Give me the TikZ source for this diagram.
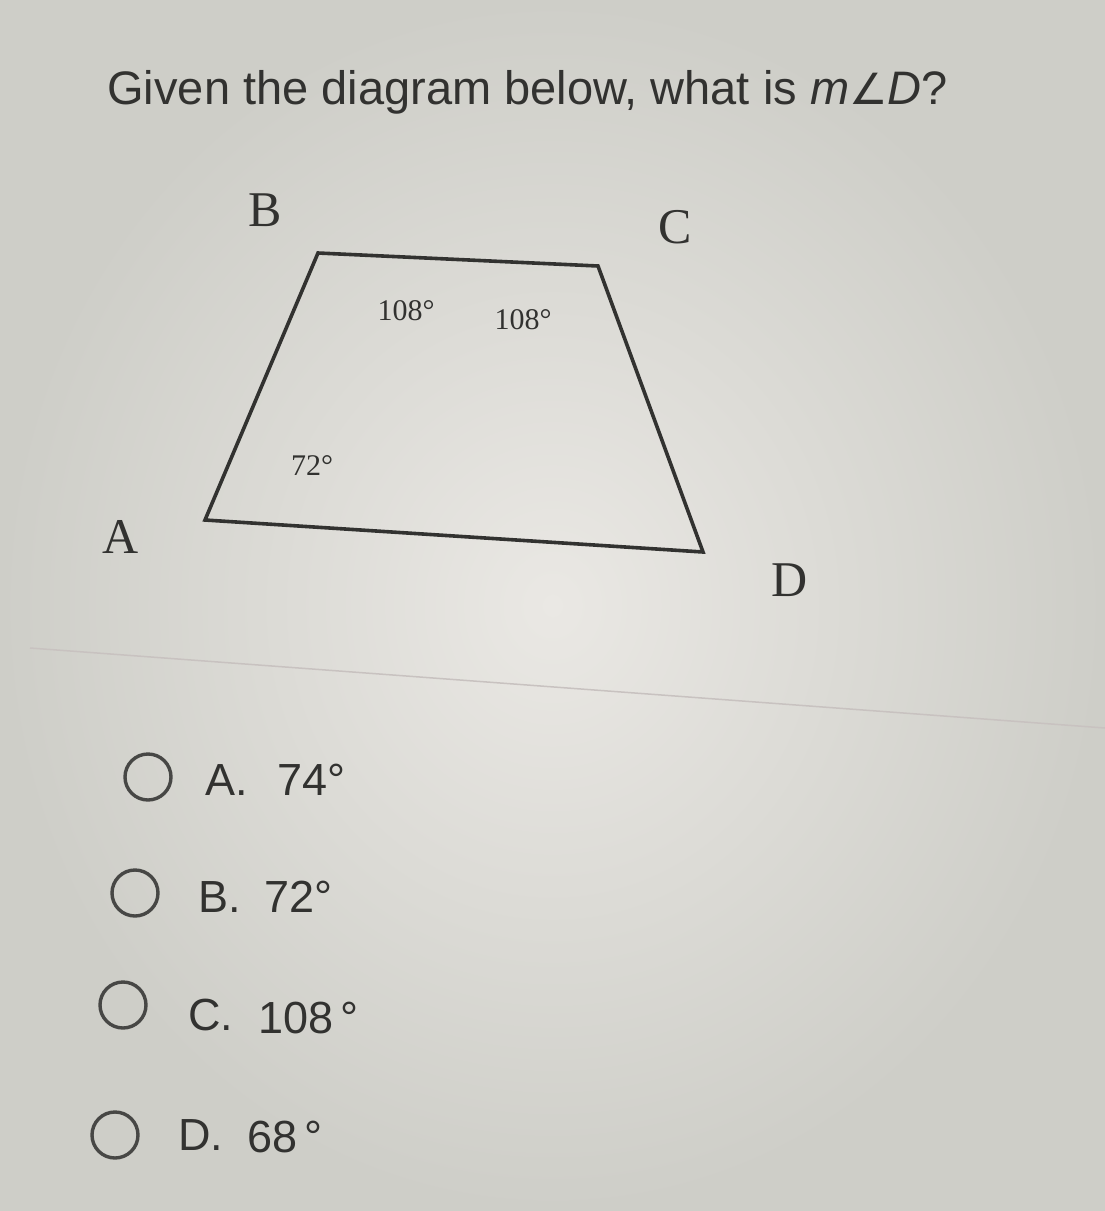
\documentclass[tikz,border=0pt]{standalone}
\usepackage{fontspec}
\setmainfont{Liberation Serif}
\newfontfamily\uifont{Liberation Sans}
\newfontfamily\symfont{DejaVu Sans}
\usetikzlibrary{positioning}
\definecolor{ink}{RGB}{50,50,48}
\definecolor{paper}{RGB}{234,232,228}
\definecolor{shade}{RGB}{206,206,200}
\definecolor{rule}{RGB}{200,194,192}

\begin{document}
\begin{tikzpicture}[x=1pt,y=-1pt,thick,
    vertex label/.style={font=\fontsize{50}{52}\selectfont,text=ink},
    angle label/.style={font=\fontsize{30}{32}\selectfont,text=ink},
    question/.style={font=\uifont\fontsize{47}{49}\selectfont,text=ink,anchor=base west,inner sep=0pt},
    choice/.style={font=\uifont\fontsize{45}{47}\selectfont,text=ink,anchor=base west,inner sep=0pt},
    radio/.style={circle,draw=ink!90,line width=3.4pt,minimum size=46pt,inner sep=0pt}]

    % background
    \shade[inner color=paper,outer color=shade] (0,0) rectangle (1105,1211);
    \useasboundingbox (0,0) rectangle (1105,1211);

    \node[question] (title) at (107,104) {Given the diagram below, what is {\itshape m}{\symfont\fontsize{43}{45}\selectfont ∠}{\itshape D}?};

    % trapezoid
    \coordinate (a) at (205,520);
    \coordinate (b) at (318,253);
    \coordinate (c) at (598,266);
    \coordinate (d) at (703,552);
    \draw[ink,line width=3.6pt,line join=miter] (a) -- (b) -- (c) -- (d) -- cycle;

    \node[vertex label] (A) at (121,537) {A};
    \node[vertex label] (B) at (265,210) {B};
    \node[vertex label] (C) at (675,227) {C};
    \node[vertex label] (D) at (790,580) {D};

    \node[angle label] (angB) at (406,311) {108\textdegree};
    \node[angle label] (angC) at (523,320) {108\textdegree};
    \node[angle label] (angA) at (312,466) {72\textdegree};

    % divider
    \coordinate (r1) at (30,648);
    \coordinate (r2) at (1105,728);
    \draw[rule,line width=1.5pt] (r1) -- (r2);

    % answer choices
    \node[radio] (oA) at (148,777) {};
    \node[radio] (oB) at (135,893) {};
    \node[radio] (oC) at (123,1005) {};
    \node[radio] (oD) at (115,1135) {};

    \node[choice] (cA) at (205,795) {A.};
    \node[choice] (cB) at (198,912) {B.};
    \node[choice] (cC) at (188,1030) {C.};
    \node[choice] (cD) at (178,1150) {D.};

    \node[choice] (vA) at (277,795) {74\textdegree};
    \node[choice] (vB) at (264,912) {72\textdegree};
    \node[choice] (vC) at (258,1033) {108\,\textdegree};
    \node[choice] (vD) at (247,1152) {68\,\textdegree};
\end{tikzpicture}
\end{document}
